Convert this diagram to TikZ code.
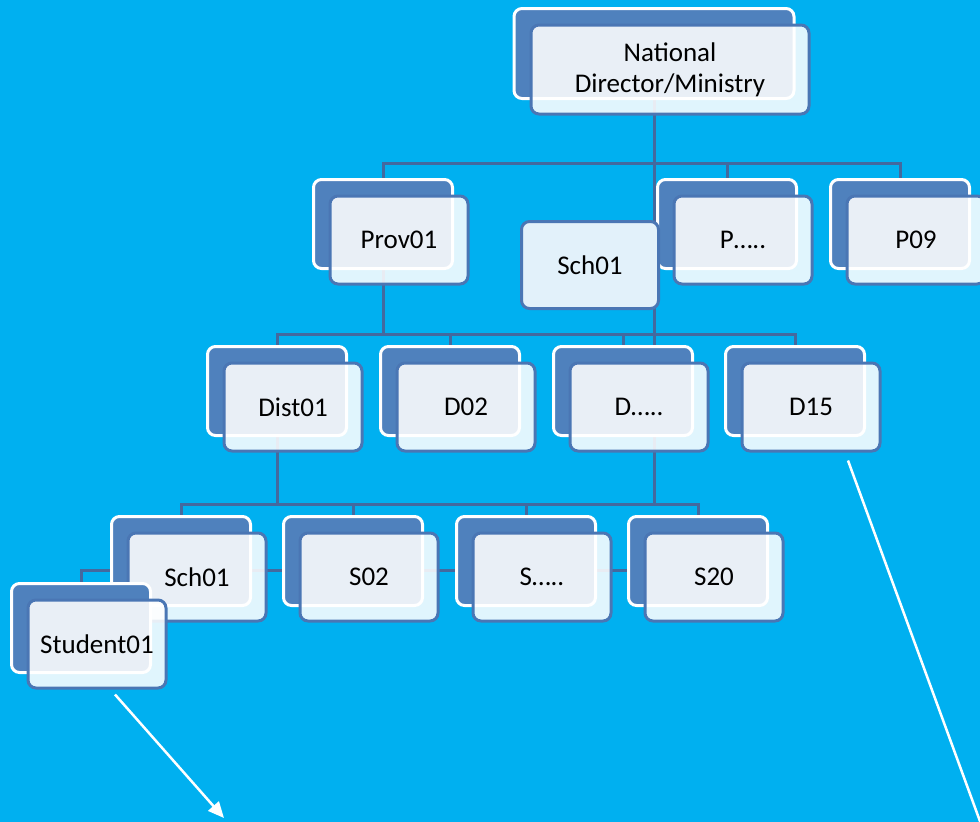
\documentclass[tikz,border=0pt]{standalone}
\usepackage{fontspec}
\setmainfont{Carlito}
\usetikzlibrary{arrows.meta, positioning, calc, backgrounds}
\definecolor{sky}{HTML}{00B0F0}
\definecolor{backblue}{HTML}{4F81BD}
\definecolor{edgeblue}{HTML}{4A76B4}
\definecolor{linkblue}{HTML}{44699E}
\definecolor{paleblue}{HTML}{E2F1FA}

\begin{document}
\begin{tikzpicture}[x=1pt,y=-1pt,
back/.style={rectangle, rounded corners=8pt, draw=white, line width=3pt, fill=backblue, minimum width=139pt, minimum height=89pt, inner sep=0pt},
front/.style={rectangle, rounded corners=8pt, draw=edgeblue, line width=3pt, fill=white, fill opacity=0.88, text opacity=1, minimum width=138pt, minimum height=88pt, inner sep=0pt, align=center, font=\fontsize{27}{31}\selectfont},
link/.style={draw=linkblue, line width=3pt},
pointer/.style={draw=white, line width=2.5pt, -{Triangle[length=16pt,width=14pt]}}]
\useasboundingbox (0,0) rectangle (980,822);
\begin{scope}[on background layer]
\fill[sky] (0,0) rectangle (980,822);
\end{scope}
\coordinate (bar1) at (0,163);
\coordinate (bar2) at (0,334);
\coordinate (bar3) at (0,504);
\coordinate (bar4) at (0,570);
\coordinate (outA) at (224,818);
\coordinate (outB) at (981,824);

\node[back, minimum width=280pt, minimum height=90pt] (natB) at (654,53.5) {};
\node[front, minimum width=278pt, minimum height=89pt] (nat) at ($(natB)+(16,16)$) {National\\Director/Ministry};

\node[back] (provB) at (383,224) {};
\node[front] (prov) at ($(provB)+(16,16)$) {Prov01};
\node[back] (pdB) at (727,224) {};
\node[front] (pd) at ($(pdB)+(16,16)$) {P\ldots..};
\node[back] (p09B) at (900,224) {};
\node[front] (p09) at ($(p09B)+(16,16)$) {P09};

\node[front, fill=paleblue, fill opacity=1, minimum width=137pt, minimum height=87pt] (sch) at (590,265) {Sch01};

\node[back] (distB) at (277,391) {};
\node[front] (dist) at ($(distB)+(16,16)$) {Dist01};
\node[back] (d02B) at (450,391) {};
\node[front] (d02) at ($(d02B)+(16,16)$) {D02};
\node[back] (ddB) at (623,391) {};
\node[front] (dd) at ($(ddB)+(16,16)$) {D\ldots..};
\node[back] (d15B) at (795,391) {};
\node[front] (d15) at ($(d15B)+(16,16)$) {D15};

\node[back] (schB) at (181,561) {};
\node[front] (sch1) at ($(schB)+(16,16)$) {Sch01};
\node[back] (s02B) at (353,561) {};
\node[front] (s02) at ($(s02B)+(16,16)$) {S02};
\node[back] (ssB) at (526,561) {};
\node[front] (ss) at ($(ssB)+(16,16)$) {S\ldots..};
\node[back] (s20B) at (698,561) {};
\node[front] (s20) at ($(s20B)+(16,16)$) {S20};

\node[back] (stuB) at (81,628) {};
\node[front] (stu) at ($(stuB)+(16,16)$) {Student01};

\begin{scope}[on background layer]
\draw[link] (natB) -- (natB |- bar3);
\foreach \k in {provB,pdB,p09B} \draw[link] (natB) -- (natB |- bar1) -| (\k);
\foreach \k in {distB,d02B,ddB,d15B} \draw[link] (provB) -- (provB |- bar2) -| (\k);
\foreach \k in {schB,s02B,ssB,s20B} \draw[link] (distB) -- (distB |- bar3) -| (\k);
\draw[link] (stuB) |- (s20B |- bar4);
\end{scope}

\draw[pointer] ($(stu.south)+(18,5)$) -- (outA);
\draw[white, line width=2.5pt] ($(d15.south)+(37,8)$) -- (outB);
\end{tikzpicture}
\end{document}
